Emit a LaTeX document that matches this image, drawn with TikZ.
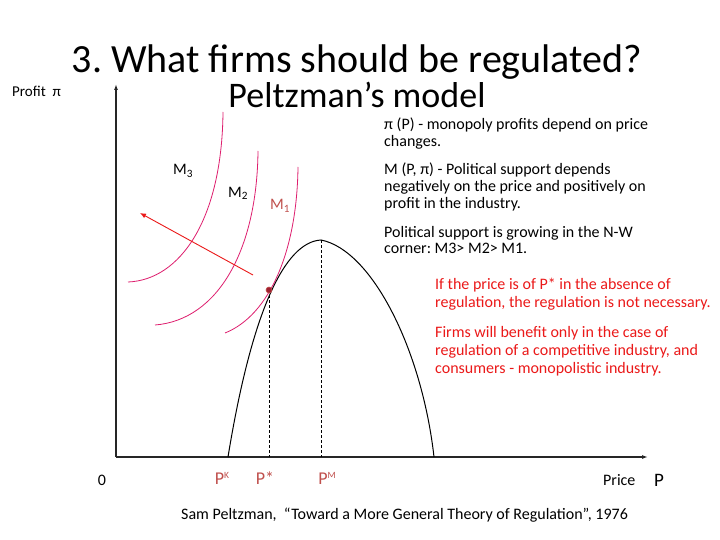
\documentclass[tikz,border=0pt]{standalone}
\usepackage{fontspec}
\setmainfont{Carlito}
\usetikzlibrary{arrows.meta}
\definecolor{mcurve}{RGB}{222,30,110}
\definecolor{lblred}{RGB}{192,80,77}
\definecolor{txtred}{RGB}{235,25,25}
\definecolor{dotred}{RGB}{160,32,48}
\newcommand{\fs}[1]{\fontsize{#1}{#1}\selectfont}
\newcommand{\hisup}[1]{\raisebox{6pt}{\fs{9.5}#1}}
\tikzset{
  txt/.style={inner sep=0pt, anchor=base west, font=\fs{16}},
  rtxt/.style={txt, text=txtred},
  axis/.style={line width=1.2pt, draw=black!85, -{Latex[length=6pt,width=4pt]}},
  mline/.style={draw=mcurve, line width=0.8pt},
  pcurve/.style={draw=black, line width=1pt},
  guide/.style={draw=black, line width=0.6pt, dash pattern=on 3pt off 2pt},
  lbl/.style={inner sep=0pt, anchor=base, font=\fs{18}, text=lblred},
}
\begin{document}
\frenchspacing
\begin{tikzpicture}[x=1pt,y=-1pt]
\useasboundingbox (0,0) rectangle (720,540);
\fill[white] (0,0) rectangle (720,540);

% titles
\node[inner sep=0pt, anchor=base, font=\fs{40}] (title) at (357,73) {3. What firms should be regulated?};
\node[inner sep=0pt, anchor=base, font=\fs{36}] (subtitle) at (357,108) {Peltzman’s model};

% axes
\coordinate (O) at (116,457);
\coordinate (ytop) at (116,84);
\coordinate (xend) at (648,457);
\draw[axis] (O) -- (ytop);
\draw[axis] (O) -- (xend);

% profit curve
\coordinate (pk) at (228,457);
\coordinate (peak) at (321,240);
\coordinate (pright) at (434,457);
\coordinate (tang) at (269,290);
\draw[pcurve] (pk) .. controls (252,310) and (285,242) .. (peak)
  .. controls (372,250) and (422,350) .. (pright);

% dashed guides
\coordinate (pstar) at (269,457);
\coordinate (pm) at (321,457);
\draw[guide] (tang) -- (pstar);
\draw[guide] (peak) -- (pm);

% political support curves
\coordinate (m3a) at (223,112);
\coordinate (m3b) at (128,282);
\coordinate (m2a) at (258,151);
\coordinate (m2b) at (155,325);
\coordinate (m1a) at (298,167);
\coordinate (m1b) at (225,333);
\draw[mline] (m3a) .. controls (222,220) and (180,280) .. (m3b);
\draw[mline] (m2a) .. controls (257,250) and (218,320) .. (m2b);
\draw[mline] (m1a) .. controls (297,250) and (270,315) .. (m1b);

% red arrow
\coordinate (arrS) at (253,275);
\coordinate (arrE) at (140,213);
\draw[draw=txtred, line width=0.9pt, -{Latex[length=6pt,width=5pt]}] (arrS) -- (arrE);

% tangency dot
\node[circle, inner sep=0pt, minimum size=6pt, fill=dotred, draw=lblred, line width=0.6pt] (dot) at (tang) {};

% curve labels
\node[inner sep=0pt, anchor=base, font=\fs{16}] (M3) at (183,175) {M\textsubscript{3}};
\node[inner sep=0pt, anchor=base, font=\fs{16}] (M2) at (238,197) {M\textsubscript{2}};
\node[inner sep=0pt, anchor=base, font=\fs{16}, text=lblred] (M1) at (280,210) {M\textsubscript{1}};

% axis labels
\node[inner sep=0pt, anchor=base west, font=\fs{15}] (profit) at (12,97) {Profit~~π};
\node[inner sep=0pt, anchor=base, font=\fs{16}] (zero) at (102,485) {0};
\node[lbl] (PK) at (222,484) {P\hisup{K}};
\node[lbl] (Pst) at (265,484) {P*};
\node[lbl] (PM) at (327,484) {P\hisup{M}};
\node[inner sep=0pt, anchor=base west, font=\fs{16}] (price) at (603,485) {Price};
\node[inner sep=0pt, anchor=base west, font=\fs{19}] (P) at (654,486) {P};

% black explanatory text
\node[txt] (b1) at (384,130) {π (P) - monopoly profits depend on price};
\node[txt] (b2) at (384,147) {changes.};
\node[txt] (b3) at (384,175) {M (P, π) - Political support depends};
\node[txt] (b4) at (384,192) {negatively on the price and positively on};
\node[txt] (b5) at (384,209) {profit in the industry.};
\node[txt] (b6) at (384,237) {Political support is growing in the N-W};
\node[txt] (b7) at (384,254) {corner: M3> M2> M1.};

% red text
\node[rtxt] (r1) at (435,289) {If the price is of P* in the absence of};
\node[rtxt] (r2) at (435,307) {regulation, the regulation is not necessary.};
\node[rtxt] (r3) at (435,337) {Firms will benefit only in the case of};
\node[rtxt] (r4) at (435,355) {regulation of a competitive industry, and};
\node[rtxt] (r5) at (435,373) {consumers - monopolistic industry.};

% citation
\node[inner sep=0pt, anchor=base west, font=\fs{16}] (cite) at (181,519) {Sam Peltzman,~ “Toward a More General Theory of Regulation”, 1976};
\end{tikzpicture}
\end{document}
